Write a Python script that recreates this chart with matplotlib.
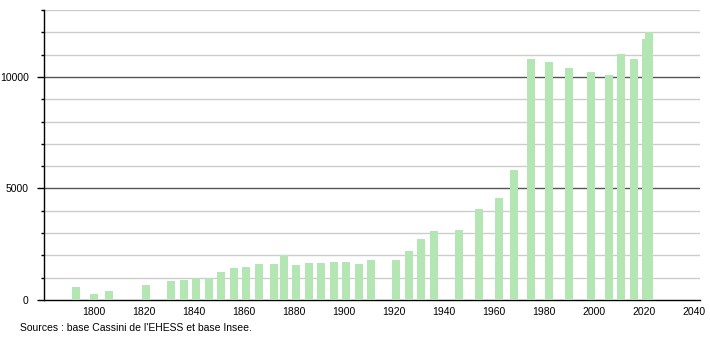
import matplotlib.pyplot as plt
from matplotlib.ticker import MultipleLocator

plt.rcParams['font.family'] = ['Liberation Sans', 'DejaVu Sans']

# census years and population
years = [1793, 1800, 1806, 1821, 1831, 1836, 1841, 1846, 1851, 1856,
         1861, 1866, 1872, 1876, 1881, 1886, 1891, 1896, 1901, 1906,
         1911, 1921, 1926, 1931, 1936, 1946, 1954, 1962, 1968, 1975,
         1982, 1990, 1999, 2006, 2011, 2016, 2021, 2022]
population = [580, 270, 400, 690, 860, 900, 970, 975, 1270, 1450,
              1495, 1630, 1630, 2020, 1585, 1660, 1660, 1706, 1706, 1630,
              1796, 1796, 2200, 2740, 3084, 3143, 4086, 4580, 5837, 10808,
              10686, 10417, 10206, 10103, 11045, 10808, 11719, 12033]

x_ticks = [1800, 1820, 1840, 1860, 1880, 1900, 1920, 1940, 1960, 1980, 2000, 2020, 2040]
y_ticks = [0, 5000, 10000]

fig = plt.figure(figsize=(7.1, 3.4), dpi=100)
ax = fig.add_axes([44 / 710, 40 / 340, 656 / 710, 290 / 340])

ax.bar(years, population, width=3.2, color='#b3e6b3', zorder=3)

ax.set_xlim(1780, 2042.5)
ax.set_ylim(0, 13000)

# grid: light every 1000, dark every 5000
for v in range(1000, 13001, 1000):
    if v % 5000 == 0:
        ax.axhline(v, color='#555555', lw=1.0, zorder=1)
    else:
        ax.axhline(v, color='#cccccc', lw=1.0, zorder=1)

ax.set_xticks(x_ticks)
ax.set_yticks(y_ticks)
ax.yaxis.set_minor_locator(MultipleLocator(1000))
ax.tick_params(axis='x', length=0, pad=5, labelsize=7.5)
ax.tick_params(axis='y', which='major', length=5, width=1, pad=6, labelsize=7.5)
ax.tick_params(axis='y', which='minor', length=2, width=1)

for s in ['top', 'right']:
    ax.spines[s].set_visible(False)
ax.spines['left'].set_linewidth(1)
ax.spines['bottom'].set_linewidth(1)

fig.text(20 / 710, 1 - 328 / 340, "Sources : base Cassini de l'EHESS et base Insee.",
         fontsize=7.5, va='center', ha='left')

fig.savefig('out.png', dpi=100)
